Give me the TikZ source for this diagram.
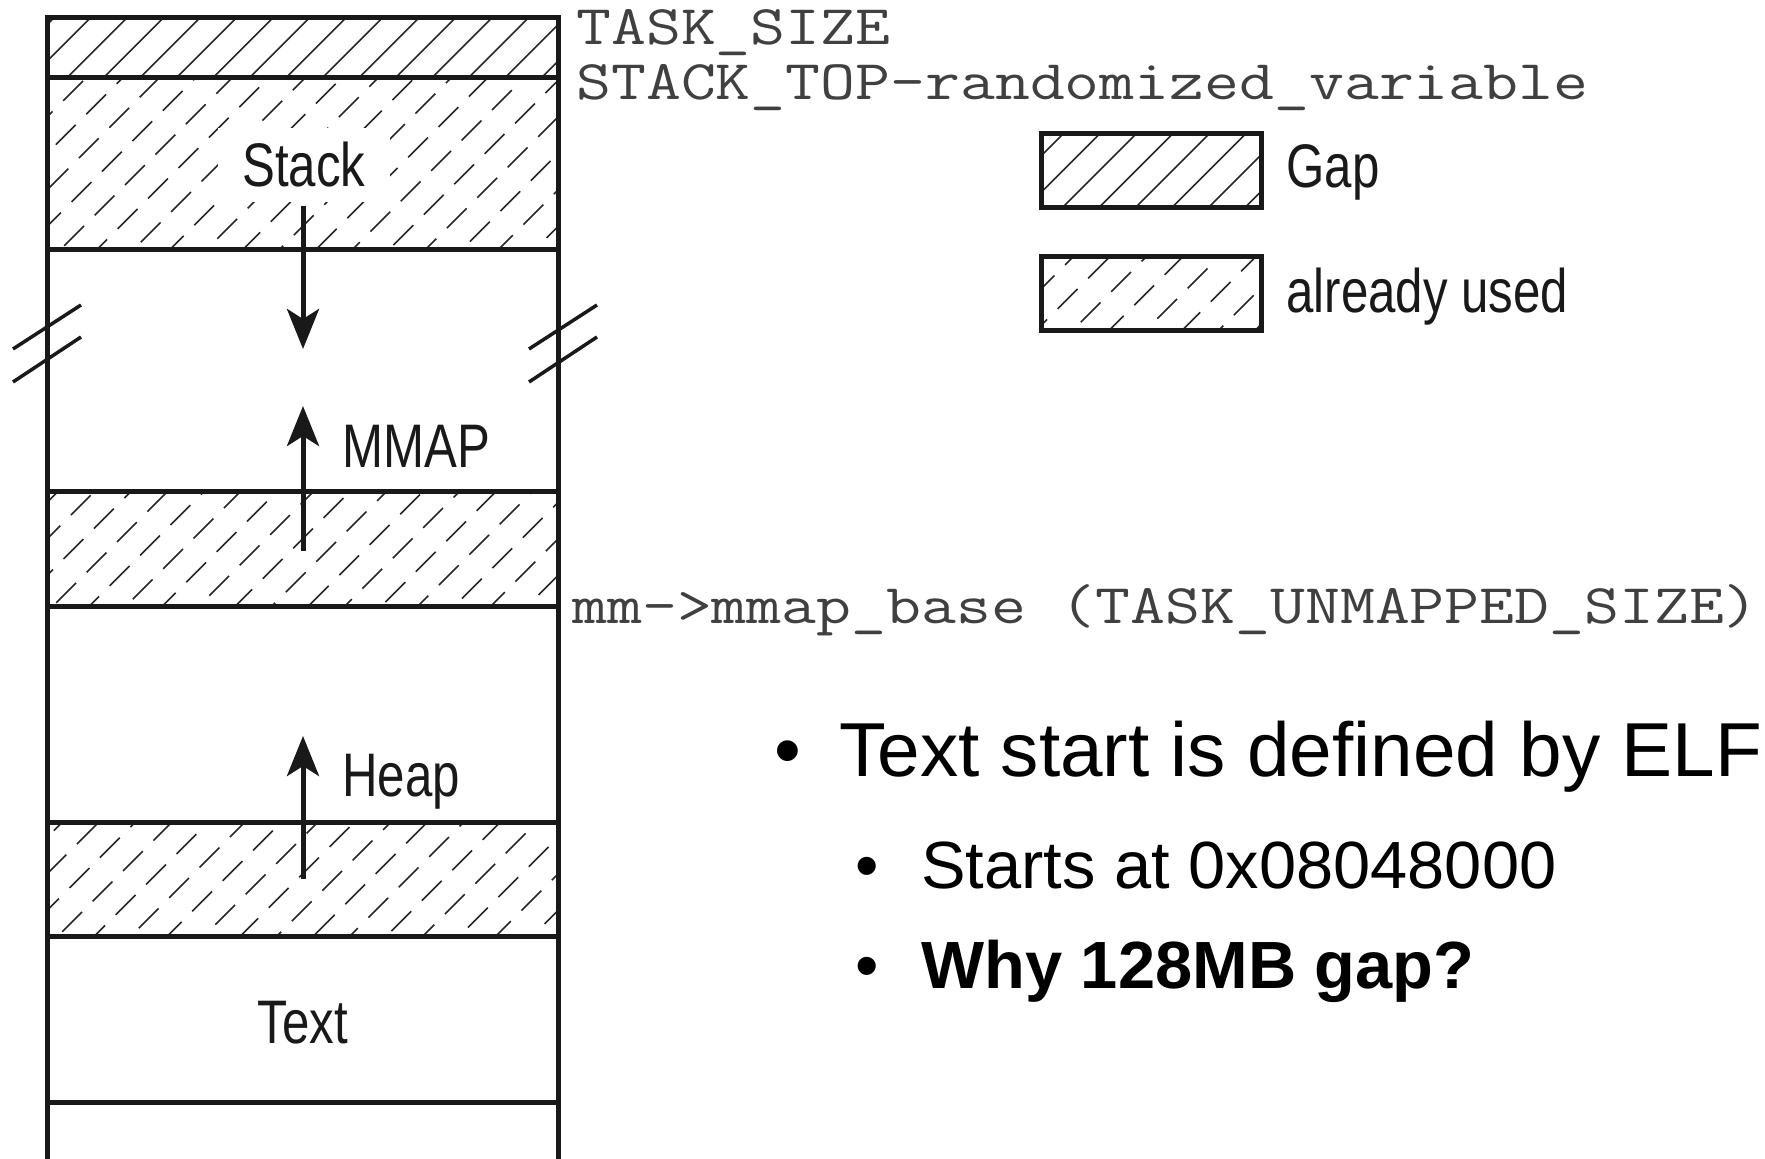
\documentclass[tikz,border=0pt]{standalone}
\usepackage{fontspec}
\setmainfont{Liberation Sans}
\newfontfamily\narrowsans{Liberation Sans}[FakeStretch=0.8]
\usetikzlibrary{arrows.meta}

% hatched strip: x1, top, x2, bottom, first foot on the bottom edge, line style
\newcommand\hatchstrip[6]{%
  \begin{scope}
    \clip (#1,#2) rectangle (#3,#4);
    \foreach \k in {-6,...,16} {%
      \pgfmathsetmacro\ph{mod(\k*19+209,43)*0.5}%
      \draw[#6, dash phase=\ph pt] ({#5+\k*36.5},#4) -- ++(220,-220);
    }
  \end{scope}}

% widened typewriter text for the address labels
\newcommand\addr[1]{\scalebox{1.21}[1]{#1}}

\begin{document}
\begin{tikzpicture}[x=0.5pt, y=-0.5pt,
  frame/.style={line width=2.5pt, black!90},
  gapline/.style={line width=0.8pt, black!85},
  usedline/.style={line width=0.8pt, black!85, dash pattern=on 14pt off 7.5pt},
  slashmark/.style={line width=1.75pt, black!90},
  growarrow/.style={line width=2.5pt, black!90, -{Stealth[length=20pt,width=16pt,inset=5pt]}},
  lbl/.style={font=\narrowsans\fontsize{30.75}{32}\selectfont, text=black!90, inner sep=0pt},
  mono/.style={font=\ttfamily\fontsize{28}{30}\selectfont,
               text=black!75, anchor=base west, inner sep=0pt},
  keybox/.style={draw, line width=2.5pt, black!90, minimum width=110pt, minimum height=37pt, inner sep=0pt},
  bul/.style={anchor=base, inner sep=0pt},
  point/.style={anchor=base west, inner sep=0pt}]

\useasboundingbox (0,0) rectangle (1765,1159);

% hatching of the memory column
\hatchstrip{47}{18}{558}{78}{66.7}{gapline}
\hatchstrip{47}{78}{558}{250}{60}{usedline}
\hatchstrip{47}{492}{558}{607}{52}{usedline}
\hatchstrip{47}{822}{558}{936}{58}{usedline}

% legend swatches
\hatchstrip{1041}{134}{1261}{208}{989}{gapline}
\hatchstrip{1041}{257}{1261}{330}{1000}{usedline}
\node[keybox] (gapkey) at (1151,171) {};
\node[keybox] (usedkey) at (1151,293.5) {};
\node[lbl, anchor=base west] (gaptxt) at (1286,188) {Gap};
\node[lbl, anchor=base west] (usedtxt) at (1286,313) {already used};

% memory column
\draw[frame] (47,1159) -- (47,18) -- (558,18) -- (558,1159);
\foreach \yy in {78,250,492,607,822,936,1102}
  \draw[frame] (47,\yy) -- (558,\yy);

% break marks on both sides
\draw[slashmark] (13,349) -- (81,305);
\draw[slashmark] (13,382) -- (81,337);
\draw[slashmark] (529,349) -- (597,305);
\draw[slashmark] (529,382) -- (597,337);

% region labels
\node[lbl, fill=white, inner xsep=12pt, inner ysep=7pt, anchor=base] (stack) at (304,187) {Stack};
\node[lbl, anchor=base west] (mmap) at (342,468) {MMAP};
\node[lbl, anchor=base west] (heap) at (342,796) {Heap};
\node[lbl, anchor=base] (text) at (303,1043) {Text};

% growth directions
\coordinate (stacktail) at (303,206);
\coordinate (stacktip) at (303,349);
\coordinate (mmaptail) at (303,551);
\coordinate (mmaptip) at (303,406);
\coordinate (heaptail) at (303,879);
\coordinate (heaptip) at (303,736);
\draw[growarrow] (stacktail) -- (stacktip);
\draw[growarrow] (mmaptail) -- (mmaptip);
\draw[growarrow] (heaptail) -- (heaptip);

% address labels
\node[mono] (tasksize) at (576,45) {\addr{TASK\_SIZE}};
\node[mono] (stacktop) at (576,100) {\addr{STACK\_TOP-randomized\_variable}};
\node[mono] (mmapbase) at (572,624) {\addr{mm->mmap\_base (TASK\_UNMAPPED\_SIZE)}};

% notes
\node[bul, font=\fontsize{38.25}{40}\selectfont] (dot1) at (788,776) {•};
\node[point, font=\fontsize{38.25}{40}\selectfont] (note1) at (839,776) {Text start is defined by ELF};
\node[bul, font=\fontsize{33.4}{36}\selectfont] (dot2) at (867,888) {•};
\node[point, font=\fontsize{33.4}{36}\selectfont] (note2) at (921,888) {Starts at 0x08048000};
\node[bul, font=\fontsize{33.4}{36}\selectfont] (dot3) at (867,988) {•};
\node[point, font=\fontsize{33.4}{36}\selectfont\bfseries] (note3) at (921,988) {Why 128MB gap?};

\end{tikzpicture}
\end{document}
